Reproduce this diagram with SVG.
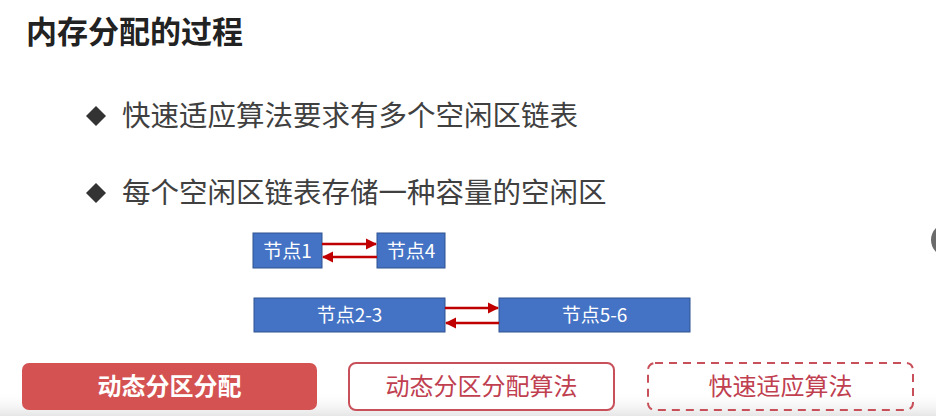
<svg xmlns="http://www.w3.org/2000/svg" width="936" height="416" viewBox="0 0 936 416">
<defs>
<marker id="ah" viewBox="0 0 10 10" refX="9" refY="5" markerWidth="4.5" markerHeight="4.5" orient="auto-start-reverse" markerUnits="strokeWidth">
<path d="M0,0 L10,5 L0,10 z" fill="#C00000"/>
</marker>
<linearGradient id="shade" x1="0" y1="0" x2="0" y2="1">
<stop offset="0" stop-color="#ffffff" stop-opacity="0"/>
<stop offset="1" stop-color="#e6e6e6"/>
</linearGradient>
<style>
.cjk{font-family:"Noto Sans CJK SC","Noto Sans",sans-serif}
.title{font-size:31px;font-weight:700;fill:#222}
.bullet{font-size:28.5px;fill:#404040}
.node rect{fill:#4472C4;stroke:#2F528F;stroke-width:1}
.node text{font-size:19px;fill:#fff;text-anchor:middle}
.conn line{stroke:#C00000;stroke-width:2.5;marker-end:url(#ah)}
.btn text{font-size:24px;text-anchor:middle}
</style>
</defs>
<rect width="936" height="416" fill="#fff"/>
<rect x="0" y="390" width="936" height="26" fill="url(#shade)"/>
<circle cx="948" cy="240" r="17" fill="#6b6b6b"/>

<text class="cjk title" x="26" y="43">内存分配的过程</text>

<g id="bullet1">
<path d="M96,106 L106,116 L96,126 L86,116 z" fill="#333"/>
<text class="cjk bullet" x="122" y="126">快速适应算法要求有多个空闲区链表</text>
</g>
<g id="bullet2">
<path d="M96,183 L106,193 L96,203 L86,193 z" fill="#333"/>
<text class="cjk bullet" x="122" y="203">每个空闲区链表存储一种容量的空闲区</text>
</g>

<g id="node1" class="node cjk">
<rect x="253" y="233" width="69" height="35"/>
<text x="287.5" y="257.5">节点1</text>
</g>
<g id="node4" class="node cjk">
<rect x="377" y="233" width="68" height="35"/>
<text x="411" y="257.5">节点4</text>
</g>
<g id="node23" class="node cjk">
<rect x="254" y="298" width="191" height="34"/>
<text x="349.5" y="322">节点2-3</text>
</g>
<g id="node56" class="node cjk">
<rect x="499" y="298" width="191" height="34"/>
<text x="594.5" y="322">节点5-6</text>
</g>

<g id="connectors" class="conn">
<line x1="322" y1="244" x2="376" y2="244"/>
<line x1="377" y1="257" x2="323" y2="257"/>
<line x1="445" y1="308" x2="498" y2="308"/>
<line x1="499" y1="323" x2="446" y2="323"/>
</g>

<g id="btn1" class="btn cjk">
<rect x="22" y="363" width="295" height="47" rx="7" fill="#D45252"/>
<text x="169.5" y="395" fill="#fff" font-weight="700">动态分区分配</text>
</g>
<g id="btn2" class="btn cjk">
<rect x="349" y="363" width="265" height="47" rx="7" fill="#fff" stroke="#C8505A" stroke-width="2"/>
<text x="481.5" y="395" fill="#C04050">动态分区分配算法</text>
</g>
<g id="btn3" class="btn cjk">
<rect x="648" y="363" width="265" height="47" rx="7" fill="none" stroke="#C8505A" stroke-width="2" stroke-dasharray="8,6"/>
<text x="780.5" y="395" fill="#C04050">快速适应算法</text>
</g>
</svg>
